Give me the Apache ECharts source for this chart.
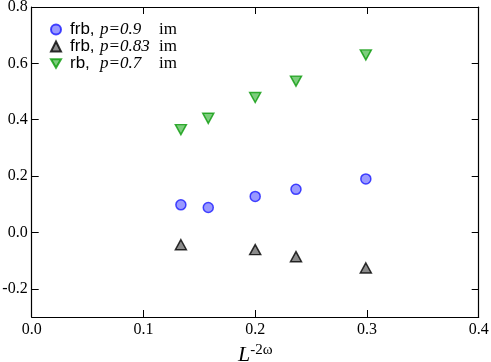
<!DOCTYPE html>
<html>
<head>
<meta charset="utf-8">
<script src="https://cdn.jsdelivr.net/npm/echarts@6/dist/echarts.min.js"></script>
<style>
    html,body{margin:0;padding:0;background:#fff;}
    #chart{width:491px;height:362px;}
</style>
</head>
<body>
<div id="chart"></div>
<script>
// 数据
var x_frb9=[0.1335, 0.158, 0.2, 0.2365, 0.299];
var y_frb9=[0.098, 0.0885, 0.128, 0.153, 0.190];
var x_frb83=[0.1335, 0.2, 0.2365, 0.299];
var y_frb83=[-0.0435, -0.061, -0.086, -0.126];
var x_rb7=[0.1335, 0.158, 0.2, 0.2365, 0.299];
var y_rb7=[0.365, 0.405, 0.479, 0.537, 0.630];
var y_ticks=[-0.2, 0.0, 0.2, 0.4, 0.6, 0.8];
var legend_p=['0.9', '0.83', '0.7'];
var legend_model=['frb,', 'frb,', 'rb,'];

function pairs(xs,ys) {
    var out=[];
    for(var i=0;i<xs.length;i++){
        out.push([xs[i],ys[i]]);
    }
    return out;
}

var serif='"Liberation Serif", "DejaVu Serif", serif';
var sans='"Liberation Sans", Arial, sans-serif';
var names=['frb9','frb83','rb7'];

var chart=echarts.init(document.getElementById('chart'));

var axis_line={show:true,onZero:false,lineStyle:{color:'#000',width:1.2}};
var tick_in={show:true,inside:true,length:7,lineStyle:{color:'#000',width:1}};
var tick_y={show:true,inside:true,length:7,lineStyle:{color:'#000',width:1},customValues:y_ticks};

var option={
    animation:false,
    grid:{left:31.7,right:12.3,top:7,bottom:45,outerBoundsMode:'none',containLabel:false},
    legend:{
        orient:'vertical',
        left:45,
        top:16,
        itemWidth:10,
        itemHeight:10,
        itemGap:0,
        data:names,
        formatter:function (name) {
            var i=names.indexOf(name);
            return '{a|'+legend_model[i]+'}{p|p=}{n|'+legend_p[i]+'}{m|im}';
        },
        textStyle:{
            lineHeight:14,
            rich:{
                a:{fontFamily:sans,fontSize:17,color:'#000',width:30,padding:[0,0,0,4],lineHeight:14},
                p:{fontFamily:serif,fontStyle:'italic',fontSize:17,color:'#000',lineHeight:14},
                n:{fontFamily:serif,fontStyle:'italic',fontSize:17,color:'#000',width:39,lineHeight:14},
                m:{fontFamily:serif,fontSize:17,color:'#000',lineHeight:14}
            }
        }
    },
    xAxis:[{
        type:'value',
        min:0,
        max:0.4,
        interval:0.1,
        position:'bottom',
        axisLine:axis_line,
        axisTick:tick_in,
        splitLine:{show:false},
        axisLabel:{
            fontFamily:serif,fontSize:16,color:'#000',margin:5,
            formatter:function (v) {return v.toFixed(1);}
        },
        name:'{l|L}{s|-2ω}',
        nameLocation:'middle',
        nameGap:22,
        nameTextStyle:{
            lineHeight:24,
            rich:{
                l:{fontFamily:serif,fontStyle:'italic',fontSize:22,color:'#000',lineHeight:24},
                s:{fontFamily:serif,fontSize:15,color:'#000',verticalAlign:'top',lineHeight:14}
            }
        }
    },{
        type:'value',
        min:0,
        max:0.4,
        interval:0.1,
        position:'top',
        axisLine:axis_line,
        axisTick:tick_in,
        axisLabel:{show:false},
        splitLine:{show:false}
    }],
    yAxis:[{
        type:'value',
        min:-0.3,
        max:0.8,
        position:'left',
        axisLine:axis_line,
        axisTick:tick_y,
        splitLine:{show:false},
        axisLabel:{
            fontFamily:serif,fontSize:16,color:'#000',margin:4,
            customValues:y_ticks,
            formatter:function (v) {return v.toFixed(1);}
        }
    },{
        type:'value',
        min:-0.3,
        max:0.8,
        position:'right',
        axisLine:axis_line,
        axisTick:tick_y,
        axisLabel:{show:false,customValues:y_ticks},
        splitLine:{show:false}
    }],
    series:[{
        name:'frb9',
        type:'scatter',
        symbol:'circle',
        symbolSize:10,
        itemStyle:{color:'#8080ff',borderColor:'#1a1aff',borderWidth:1.5},
        data:pairs(x_frb9,y_frb9)
    },{
        name:'frb83',
        type:'scatter',
        symbol:'triangle',
        symbolSize:[11,10],
        itemStyle:{color:'#6e6e6e',borderColor:'#000',borderWidth:1.5},
        data:pairs(x_frb83,y_frb83)
    },{
        name:'rb7',
        type:'scatter',
        symbol:'path://M0,0 L10,0 L5,8.66 Z',
        symbolSize:[11,10],
        itemStyle:{color:'#5cc05c',borderColor:'#0a9a0a',borderWidth:1.5},
        data:pairs(x_rb7,y_rb7)
    }]
};

chart.setOption(option);
</script>
</body>
</html>
